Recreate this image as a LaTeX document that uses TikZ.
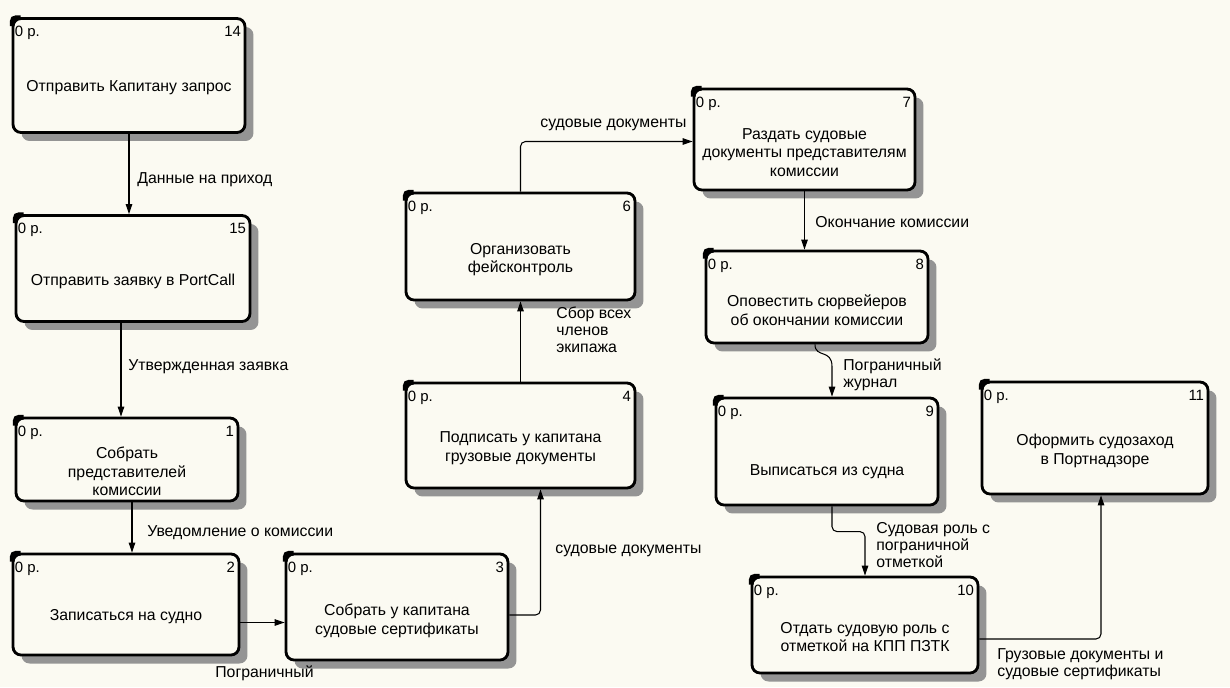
\documentclass[tikz,border=0pt]{standalone}
\usepackage{fontspec}
\setmainfont{Liberation Sans}
\usetikzlibrary{arrows.meta, calc, shadows}
\definecolor{paper}{HTML}{FBFAF2}
\tikzset{
proc/.style={draw, line width=1.6pt, rounded corners=0.16cm, fill=paper, inner sep=0pt,
  drop shadow={shadow xshift=0.17cm, shadow yshift=-0.17cm, opacity=1, fill=black!42}},
ptext/.style={align=center, inner sep=0pt, font=\fontsize{9}{10.6}\selectfont},
tag/.style={inner sep=0pt, font=\fontsize{8.5}{10}\selectfont},
note/.style={align=left, anchor=west, inner sep=0pt, font=\fontsize{9}{9.6}\selectfont},
flow/.style={line width=0.6pt, -{Triangle[length=0.2cm, width=0.13cm]}}
}
\begin{document}
\begin{tikzpicture}[x=0.02cm, y=-0.02cm]
\useasboundingbox[fill=paper] (0,0) rectangle (1230,687);

% boxes
\node[proc, minimum width=4.64cm, minimum height=2.28cm] (b14) at (129,75.5) {};
\node[proc, minimum width=4.68cm, minimum height=2.12cm] (b15) at (133,268.5) {};
\node[proc, minimum width=4.44cm, minimum height=1.66cm] (b1) at (127,459.5) {};
\node[proc, minimum width=4.52cm, minimum height=2.02cm] (b2) at (126,604.5) {};
\node[proc, minimum width=4.44cm, minimum height=2.12cm] (b3) at (397,607) {};
\node[proc, minimum width=4.58cm, minimum height=2.10cm] (b4) at (520.5,435.5) {};
\node[proc, minimum width=4.58cm, minimum height=2.14cm] (b6) at (520.5,246.5) {};
\node[proc, minimum width=4.42cm, minimum height=2.02cm] (b7) at (804.5,139.5) {};
\node[proc, minimum width=4.44cm, minimum height=1.84cm] (b8) at (817,297) {};
\node[proc, minimum width=4.44cm, minimum height=2.14cm] (b9) at (827,451.5) {};
\node[proc, minimum width=4.52cm, minimum height=1.92cm] (b10) at (865,625) {};
\node[proc, minimum width=4.52cm, minimum height=2.24cm] (b11) at (1095,438) {};

\foreach \b/\n in {b14/14, b15/15, b1/1, b2/2, b3/3, b4/4, b6/6, b7/7, b8/8, b9/9, b10/10, b11/11} {
  \node[tag, anchor=north west] (\b-p) at ($(\b.north west)+(3,9)$) {0 р.};
  \node[tag, anchor=north east] (\b-n) at ($(\b.north east)+(-5,9)$) {\n};
  \draw[line width=2.6pt] ($(\b.north west)+(0.5,9)$) .. controls ($(\b.north west)+(0.5,0.5)$) .. ($(\b.north west)+(9,0.5)$);
}

% box texts
\node[ptext] (b14-t) at ($(b14.center)+(0,12)$) {Отправить Капитану запрос};
\node[ptext] (b15-t) at ($(b15.center)+(0,13)$) {Отправить заявку в PortCall};
\node[ptext] (b1-t) at ($(b1.center)+(0,12)$) {Собрать\\представителей\\комиссии};
\node[ptext] (b2-t) at ($(b2.center)+(0,12)$) {Записаться на судно};
\node[ptext] (b3-t) at ($(b3.center)+(0,14)$) {Собрать у капитана\\судовые сертификаты};
\node[ptext] (b4-t) at ($(b4.center)+(0,13)$) {Подписать у капитана\\грузовые документы};
\node[ptext] (b6-t) at ($(b6.center)+(0,13)$) {Организовать\\фейсконтроль};
\node[ptext] (b7-t) at ($(b7.center)+(0,13)$) {Раздать судовые\\документы представителям\\комиссии};
\node[ptext] (b8-t) at ($(b8.center)+(0,13)$) {Оповестить сюрвейеров\\об окончании комиссии};
\node[ptext] (b9-t) at ($(b9.center)+(0,20)$) {Выписаться из судна};
\node[ptext] (b10-t) at ($(b10.center)+(0,12)$) {Отдать судовую роль с\\отметкой на КПП ПЗТК};
\node[ptext] (b11-t) at ($(b11.center)+(0,13)$) {Оформить судозаход\\в Портнадзоре};

% arrows
\draw[flow] (b14.south) -- (b14.south |- b15.north);
\draw[flow] ($(b15.south)+(-12,0)$) coordinate (c15) -- (c15 |- b1.north);
\draw[flow] ($(b1.south)+(5,0)$) coordinate (c1) -- (c1 |- b2.north);
\draw[flow] ($(b2.east)+(0,18)$) coordinate (c2) -- (c2 -| b3.west);
\draw[flow, rounded corners=0.1cm] ($(b3.east)+(0,8)$) -| ($(b4.south)+(20,0)$);
\draw[flow] (b4.north) -- (b6.south);
\draw[flow, rounded corners=0.1cm] (b6.north) |- ($(b7.west)+(0,2)$);
\draw[flow] (b7.south) -- (b7.south |- b8.north);
\draw[flow] ($(b8.south)+(-2,0)$) .. controls ($(b8.south)+(-2,14)$) and ($(b9.north)+(5,-48)$) .. ($(b9.north)+(5,-30)$) coordinate (c8) -- (c8 |- b9.north);
\draw[flow, rounded corners=0.1cm] ($(b9.south)+(5,0)$) |- ($(b10.north)+(0,-44)$) -- (b10.north);
\draw[flow, rounded corners=0.1cm] ($(b10.east)+(0,14)$) -| ($(b11.south)+(6,0)$);

% arrow labels
\node[note] (l1) at (137,180) {Данные на приход};
\node[note] (l2) at (128,367) {Утвержденная заявка};
\node[note] (l3) at (147,533) {Уведомление о комиссии};
\node[note] (l4) at (215,673) {Пограничный};
\node[note] (l5) at (555,551) {судовые документы};
\node[note] (l6) at (556,330) {Сбор всех\\членов\\экипажа};
\node[note] (l7) at (540,125) {судовые документы};
\node[note] (l8) at (815,222) {Окончание комиссии};
\node[note] (l9) at (843,375) {Пограничный\\журнал};
\node[note] (l10) at (876,545) {Судовая роль с\\пограничной\\отметкой};
\node[note] (l11) at (997,664) {Грузовые документы и\\судовые сертификаты};
\end{tikzpicture}
\end{document}
